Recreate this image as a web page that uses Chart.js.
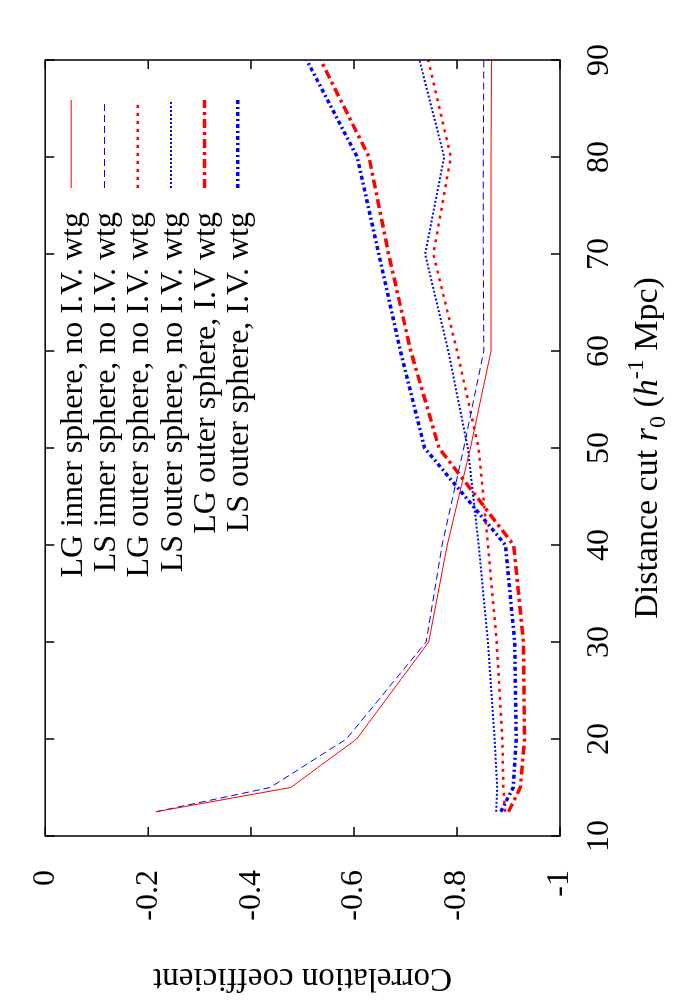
<!DOCTYPE html>
<html>
<head>
  <script src="https://cdn.jsdelivr.net/npm/chart.js@4.4.0/dist/chart.umd.min.js"></script>
  <style>
    html, body { margin: 0; padding: 0; background: #fff; overflow: hidden; }
    /* the plot is drawn upright, then the whole thing is turned a quarter left */
    #wrap { position: absolute; left: 0; top: 0; width: 1000px; height: 700px;
            transform-origin: 0 0; transform: translateY(1000px) rotate(-90deg); }
  </style>
</head>
<body>
  <div id="wrap"><canvas id="corrCanvas" width="1000" height="700"></canvas></div>

  <script>
    const distanceCut = [12.5, 15, 20, 30, 40, 50, 60, 70, 80, 90];

    const lgInnerNoIV = [-0.215, -0.477, -0.605, -0.745, -0.781, -0.826, -0.866, -0.866, -0.866, -0.867];
    const lsInnerNoIV = [-0.215, -0.437, -0.585, -0.740, -0.771, -0.813, -0.852, -0.851, -0.851, -0.852];
    const lgOuterNoIV = [-0.893, -0.890, -0.888, -0.877, -0.860, -0.842, -0.800, -0.754, -0.788, -0.744];
    const lsOuterNoIV = [-0.876, -0.878, -0.873, -0.860, -0.842, -0.821, -0.783, -0.738, -0.775, -0.727];
    const lgOuterIV   = [-0.900, -0.923, -0.931, -0.929, -0.910, -0.765, -0.710, -0.667, -0.629, -0.535];
    const lsOuterIV   = [-0.885, -0.909, -0.915, -0.912, -0.894, -0.737, -0.690, -0.648, -0.606, -0.508];

    const seriesLabels = [
      'LG inner sphere, no I.V. wtg',
      'LS inner sphere, no I.V. wtg',
      'LG outer sphere, no I.V. wtg',
      'LS outer sphere, no I.V. wtg',
      'LG outer sphere, I.V wtg',
      'LS outer sphere, I.V. wtg'
    ];

    const xTicks = [10, 20, 30, 40, 50, 60, 70, 80, 90];
    const yTicks = [0, -0.2, -0.4, -0.6, -0.8, -1];

    const serif = "'Liberation Serif', 'DejaVu Serif', serif";

    function points(values) {
      return values.map((v, i) => ({ x: distanceCut[i], y: v }));
    }

    function line(label, values, color, width, dash) {
      return {
        label: label,
        data: points(values),
        borderColor: color,
        backgroundColor: color,
        borderWidth: width,
        borderDash: dash,
        borderCapStyle: 'butt',
        borderJoinStyle: 'miter',
        pointRadius: 0,
        tension: 0,
        fill: false
      };
    }

    // frame with inward ticks on all four sides, like gnuplot
    const framePlugin = {
      id: 'frame',
      afterDraw(chart) {
        const ctx = chart.ctx;
        const a = chart.chartArea;
        const xs = chart.scales.x;
        const ys = chart.scales.y;
        const tick = 9;
        ctx.save();
        ctx.strokeStyle = '#000';
        ctx.lineWidth = 1.5;
        ctx.beginPath();
        xTicks.forEach(t => {
          const px = xs.getPixelForValue(t);
          ctx.moveTo(px, a.bottom); ctx.lineTo(px, a.bottom - tick);
          ctx.moveTo(px, a.top); ctx.lineTo(px, a.top + tick);
        });
        yTicks.forEach(t => {
          const py = ys.getPixelForValue(t);
          ctx.moveTo(a.left, py); ctx.lineTo(a.left + tick, py);
          ctx.moveTo(a.right, py); ctx.lineTo(a.right - tick, py);
        });
        ctx.stroke();
        ctx.strokeRect(a.left, a.top, a.right - a.left, a.bottom - a.top);
        ctx.restore();
      }
    };

    // key: text right aligned, line sample on the right
    const keyPlugin = {
      id: 'key',
      afterDraw(chart) {
        const ctx = chart.ctx;
        const a = chart.chartArea;
        ctx.save();
        ctx.font = '32px ' + serif;
        ctx.textAlign = 'right';
        ctx.textBaseline = 'alphabetic';
        chart.data.datasets.forEach((ds, i) => {
          const rowY = a.top + 26 + i * 33.3;
          ctx.fillStyle = '#000';
          ctx.fillText(ds.label, a.right - 152, rowY + 10.5);
          ctx.strokeStyle = ds.borderColor;
          ctx.lineWidth = ds.borderWidth;
          ctx.setLineDash(ds.borderDash);
          ctx.lineCap = 'butt';
          ctx.beginPath();
          ctx.moveTo(a.right - 128, rowY);
          ctx.lineTo(a.right - 40, rowY);
          ctx.stroke();
        });
        ctx.restore();
      }
    };

    // x title with italic r, subscript 0 and h^-1
    const xTitlePlugin = {
      id: 'xTitle',
      afterDraw(chart) {
        const ctx = chart.ctx;
        const a = chart.chartArea;
        const size = 34;
        const small = 24;
        const parts = [
          { t: 'Distance cut ', f: size + 'px ' + serif, dy: 0 },
          { t: 'r', f: 'italic ' + size + 'px ' + serif, dy: 0 },
          { t: '0', f: small + 'px ' + serif, dy: 8 },
          { t: ' (', f: size + 'px ' + serif, dy: 0 },
          { t: 'h', f: 'italic ' + size + 'px ' + serif, dy: 0 },
          { t: '-1', f: small + 'px ' + serif, dy: -14 },
          { t: ' Mpc)', f: size + 'px ' + serif, dy: 0 }
        ];
        ctx.save();
        ctx.fillStyle = '#000';
        ctx.textBaseline = 'alphabetic';
        ctx.textAlign = 'left';
        let total = 0;
        parts.forEach(p => { ctx.font = p.f; p.w = ctx.measureText(p.t).width; total += p.w; });
        let x = (a.left + a.right) / 2 - total / 2;
        const base = a.bottom + 97;
        parts.forEach(p => {
          ctx.font = p.f;
          ctx.fillText(p.t, x, base + p.dy);
          x += p.w;
        });
        ctx.restore();
      }
    };

    const ctx = document.getElementById('corrCanvas').getContext('2d');

    new Chart(ctx, {
      type: 'line',
      data: {
        datasets: [
          line(seriesLabels[0], lgInnerNoIV, '#ff0000', 1, []),
          line(seriesLabels[1], lsInnerNoIV, '#0000ff', 1, [7, 4]),
          line(seriesLabels[2], lgOuterNoIV, '#ff0000', 2.5, [3, 5]),
          line(seriesLabels[3], lsOuterNoIV, '#0000ff', 2, [2, 2]),
          line(seriesLabels[4], lgOuterIV, '#ff0000', 3.5, [9, 4, 3, 4]),
          line(seriesLabels[5], lsOuterIV, '#0000ff', 3.5, [4, 3, 2, 3])
        ]
      },
      options: {
        responsive: false,
        animation: false,
        devicePixelRatio: 1,
        layout: { padding: { top: 40, right: 60, left: 0, bottom: 0 } },
        plugins: {
          legend: { display: false },
          tooltip: { enabled: false }
        },
        scales: {
          x: {
            type: 'linear',
            min: 10,
            max: 90,
            grid: { display: false },
            border: { display: false },
            ticks: {
              stepSize: 10,
              padding: 12,
              color: '#000',
              font: { family: serif, size: 32 }
            },
            afterFit(scale) { scale.height = 140; }
          },
          y: {
            type: 'linear',
            min: -1,
            max: 0,
            grid: { display: false },
            border: { display: false },
            ticks: {
              stepSize: 0.2,
              padding: 26,
              color: '#000',
              font: { family: serif, size: 32 },
              callback: v => String(Number(v.toFixed(1)))
            },
            title: {
              display: true,
              text: 'Correlation coefficient',
              color: '#000',
              font: { family: serif, size: 33 },
              padding: { top: 3, bottom: 0 }
            },
            afterFit(scale) { scale.width = 164; }
          }
        }
      },
      plugins: [framePlugin, keyPlugin, xTitlePlugin]
    });
  </script>
</body>
</html>
